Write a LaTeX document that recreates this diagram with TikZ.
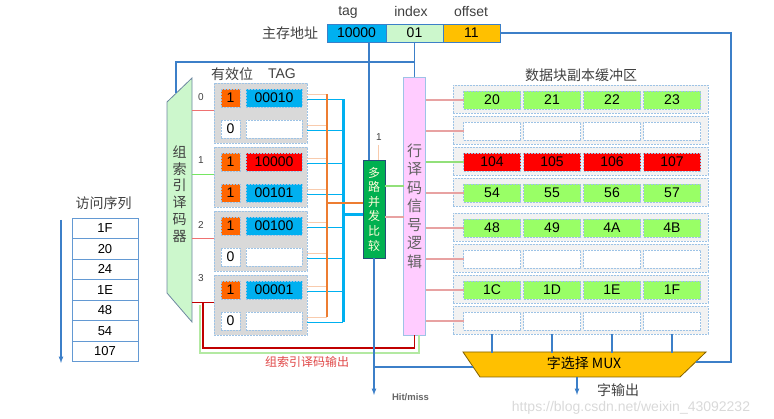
\documentclass[tikz,border=0pt]{standalone}
\usepackage{fontspec}
\setmainfont{Liberation Sans}
\newfontfamily\cjk{Noto Sans CJK SC}
\usetikzlibrary{arrows,positioning,calc}
\definecolor{linkblue}{HTML}{3C7FC8}
\definecolor{tagblue}{HTML}{00B0F0}
\definecolor{validorange}{HTML}{FF6600}
\definecolor{cellgreen}{HTML}{99FF66}
\definecolor{decgreen}{HTML}{CCF7CC}
\definecolor{rowpink}{HTML}{FFCCFF}
\definecolor{cmpgreen}{HTML}{00B050}
\definecolor{muxorange}{HTML}{FFC000}
\definecolor{dashblue}{HTML}{9DC3E6}
\definecolor{setgray}{HTML}{D9D9D9}
\definecolor{rowgray}{HTML}{F2F2F2}
\definecolor{peach}{HTML}{F8CBAD}
\definecolor{busorange}{HTML}{ED7D31}
\definecolor{wirered}{HTML}{E8A2A2}
\definecolor{wiregreen}{HTML}{92E07A}
\definecolor{darkred}{HTML}{C00000}
\definecolor{labelred}{HTML}{E04848}
\definecolor{textgray}{HTML}{404040}

\begin{document}
\begin{tikzpicture}[x=1pt,y=-1pt,>=latex,
  every node/.style={inner sep=0pt,outer sep=0pt,text=textgray},
  dashbox/.style={draw=dashblue,dash pattern=on 2pt off 1pt,line width=0.6pt},
  field/.style={dashbox,minimum height=18pt,font=\fontsize{14}{14}\selectfont,text=black},
  cn/.style={font=\cjk\fontsize{14}{16}\selectfont},
  link/.style={draw=linkblue,line width=1.2pt}]
\useasboundingbox (0,0) rectangle (774,419);

% main memory address
\node[cn] (addrlbl) at (290,33) {主存地址};
\node[field,solid,draw=linkblue,fill=tagblue,minimum width=59pt] (tagf) at (356.5,33) {10000};
\node[field,solid,draw=linkblue,fill=decgreen,minimum width=57pt] (idxf) at (414.5,33) {01};
\node[field,solid,draw=linkblue,fill=muxorange,minimum width=57pt] (offf) at (471.5,33) {11};
\node[font=\fontsize{14}{14}\selectfont] at (348,12) {tag};
\node[font=\fontsize{14}{14}\selectfont] at (411,12) {index};
\node[font=\fontsize{14}{14}\selectfont] at (471,12) {offset};

% set index decoder
\draw[draw=dashblue!70!black,fill=decgreen,line width=0.8pt] (167,102) -- (192,78) -- (192,322) -- (167,293) -- cycle;
\node[font=\cjk\fontsize{14}{16.8}\selectfont,align=center] (setdec) at (179.5,194) {组\\索\\引\\译\\码\\器};
\coordinate (sdtop) at (176,93);
\coordinate (sdbus) at (176,62);

% row decoder and comparator
\node[draw=dashblue,line width=0.8pt,fill=rowpink,minimum width=22pt,minimum height=258pt,
  font=\cjk\fontsize{15}{18.5}\selectfont,align=center,text=gray!75!black] (rowdec) at (414.5,206) {行\\译\\码\\信\\号\\逻\\辑};
\node[draw=linkblue!60!black,line width=0.8pt,fill=cmpgreen,minimum width=22pt,minimum height=98pt,
  font=\cjk\fontsize{12}{14.6}\selectfont,align=center,text=white!85!yellow] (cmp) at (374,209) {多\\路\\并\\发\\比\\较};
\node[font=\fontsize{10}{10}\selectfont] (one) at (379,137) {1};
\draw[peach,line width=1pt] ([xshift=4pt]cmp.north) -- ++(0,-15);

% address connectors
\draw[link] ([xshift=12.5pt]tagf.south) -- ([xshift=-5pt]cmp.north);
\draw[link] (idxf.south) -- (idxf.south |- sdbus) -| (sdtop);
\draw[link] (idxf.south |- sdbus) -- (rowdec.north);

% tag array
\node[cn] at (232,74) {有效位};
\node[font=\fontsize{14}{14}\selectfont] at (282,74) {TAG};
\foreach \s/\va/\ca/\ta/\cta/\vb/\cb/\tb/\ctb/\lc in {
  0/1/validorange/00010/tagblue/0/white/{}/white/wirered!70!red,
  1/1/validorange/10000/red/1/validorange/00101/tagblue/wiregreen!80!green,
  2/1/validorange/00100/tagblue/0/white/{}/white/wirered!70!red,
  3/1/validorange/00001/tagblue/0/white/{}/white/darkred} {
  \pgfmathsetmacro\T{83+64*\s}
  \node[dashbox,fill=setgray,minimum width=93pt,minimum height=60pt] (set\s) at (260.5,\T+30) {};
  \node[field,fill=\ca,minimum width=19pt] (val\s0) at (230.5,\T+15) {\va};
  \node[field,fill=\cta,minimum width=56pt] (tag\s0) at (274,\T+15) {\ta};
  \node[field,fill=\cb,minimum width=19pt] (val\s1) at (230.5,\T+46) {\vb};
  \node[field,fill=\ctb,minimum width=56pt] (tag\s1) at (274,\T+46) {\tb};
  % decoder output
  \draw[\lc,line width=1.2pt] ($(set\s.west)+(-22,-2.5)$) -- ($(set\s.west)+(0,-2.5)$);
  % stubs to the buses
  \foreach \e in {0,1} {
    \draw[peach,line width=1.2pt] ($(set\s.east |- tag\s\e)+(0,-3.5)$) -- ++(20,0);
    \draw[tagblue,line width=1.2pt] ($(set\s.east |- tag\s\e)+(0,1.5)$) -- ++(36,0);
  }
}
\node[font=\fontsize{10}{10}\selectfont] at (201,97) {0};
\node[font=\fontsize{10}{10}\selectfont] at (201,160) {1};
\node[font=\fontsize{10}{10}\selectfont] at (201,225) {2};
\node[font=\fontsize{10}{10}\selectfont] at (201,278) {3};

% buses into the comparator
\draw[busorange,line width=2pt] ($(set0.east |- tag00)+(20,-3.5)$) -- ($(set3.east |- tag31)+(20,-3.5)$);
\draw[tagblue,line width=3pt] ($(set0.east |- tag00)+(36,1.5)$) -- ($(set3.east |- tag31)+(36,1.5)$);
\draw[busorange,line width=2pt] ($(cmp.west)+(-36,-6)$) -- ($(cmp.west)+(0,-6)$);
\draw[tagblue,line width=3pt] ($(cmp.west)+(-20,6)$) -- ($(cmp.west)+(0,6)$);

% comparator to row decoder
\draw[wiregreen,line width=1.2pt] ([yshift=23pt]cmp.east) -- ([yshift=23pt]cmp.east -| rowdec.west);
\draw[wirered,line width=1.2pt] ([yshift=-8pt]cmp.east) -- ([yshift=-8pt]cmp.east -| rowdec.west);

% set index decoder output
\draw[wiregreen!70!white,line width=1.2pt] ($(set3.west)+(-14,0)$) |- ($(rowdec.south)+(4.5,18)$) -- ($(rowdec.south)+(4.5,0)$);
\draw[darkred,line width=1.5pt] ($(set3.west)+(-11,-2.5)$) |- ($(rowdec.south)+(0,13)$) -- (rowdec.south);
\node[font=\cjk\fontsize{12}{12}\selectfont,text=labelred] (sdout) at (307,362) {组索引译码输出};

% data block buffer
\node[cn] (buftitle) at (581,75) {数据块副本缓冲区};
\foreach \k/\fc/\wc/\a/\b/\c/\d in {
  0/cellgreen/wirered/20/21/22/23,
  1/white/wirered/{}/{}/{}/{},
  2/red/wiregreen/104/105/106/107,
  3/cellgreen/wirered/54/55/56/57,
  4/cellgreen/wirered/48/49/4A/4B,
  5/white/wirered/{}/{}/{}/{},
  6/cellgreen/wirered/1C/1D/1E/1F,
  7/white/wirered/{}/{}/{}/{}} {
  \pgfmathsetmacro\ry{85+31*\k+(\k>3)*4}
  \node[dashbox,fill=rowgray,minimum width=255pt,minimum height=28pt] (row\k) at (580.5,\ry+14) {};
  \foreach \j/\v in {0/\a,1/\b,2/\c,3/\d}
    \node[field,fill=\fc,minimum width=57pt] (cell\k\j) at (492+60*\j,\ry+15) {\v};
  \draw[\wc,line width=1.2pt] (rowdec.east |- cell\k0) -- (cell\k0.west);
}

% word select mux
\draw[draw=muxorange!50!black,fill=muxorange,line width=0.8pt] (463,352) -- (706,352) -- (680,377) -- (480,377) -- cycle;
\node[font=\cjk\fontsize{14}{14}\selectfont,text=black] (mux) at (584,363) {字选择 MUX};
\coordinate (muxl) at (473,367);
\coordinate (muxr) at (696,362);
\coordinate (muxbot) at (577,377);
\coordinate (wordout) at (577,395);
\coordinate (offturn) at (731,362);
\foreach \j in {0,...,3}
  \draw[link] (cell7\j |- row7.south) -- ++(0,19);
\draw[link] (offf.east) -| (offturn) -- (muxr);
\draw[link,->] (muxbot) -- (wordout);
\node[cn,anchor=west] (wordlbl) at (597,390) {字输出};

% hit / miss
\coordinate (hitend) at ($(cmp.south)+(0,137)$);
\draw[link,->] (cmp.south) -- (hitend);
\draw[link] ($(cmp.south)+(0,109)$) -- (muxl);
\node[font=\bfseries\fontsize{9.5}{10}\selectfont,text=gray!80!black,anchor=west] (hitlbl) at ($(hitend)+(18,2)$) {Hit/miss};

% access sequence
\node[cn] (seqlbl) at (103.5,203) {访问序列};
\foreach \v [count=\i from 0] in {1F,20,24,1E,48,54,107}
  \node[draw=linkblue!80,line width=0.8pt,minimum width=66pt,minimum height=20.5pt,
    font=\fontsize{13}{13}\selectfont,text=black] (seq\i) at (105,228.25+20.5*\i) {\v};
\coordinate (seqtop) at (61,220);
\coordinate (seqbot) at (61,363);
\draw[link,->] (seqtop) -- (seqbot);

% watermark
\node[font=\fontsize{14}{14}\selectfont,text=gray!30] (wm) at (631,408) {https://blog.csdn.net/weixin\_43092232};
\end{tikzpicture}
\end{document}
